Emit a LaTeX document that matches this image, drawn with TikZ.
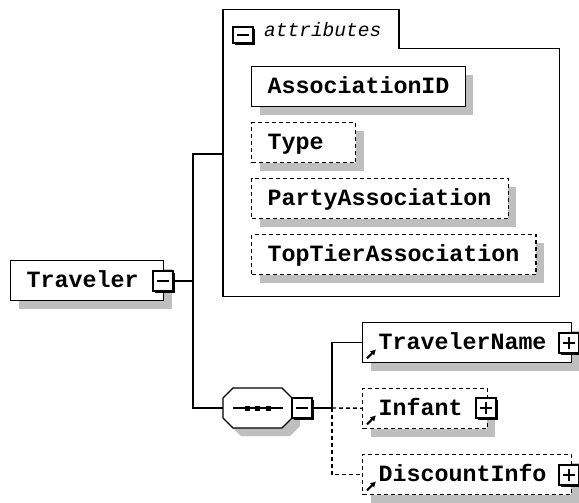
\documentclass[tikz,border=0pt]{standalone}
\usepackage{fontspec}
\usetikzlibrary{positioning,shadows,arrows.meta}
\newfontfamily\schemafont{Liberation Mono}

\tikzset{
    link/.style={line width=1.4pt},
    optional/.style={dash pattern=on 4pt off 3pt},
    boxshadow/.style={drop shadow={shadow xshift=8pt,shadow yshift=-8pt,fill=gray!50,opacity=1}},
    elem/.style={draw,fill=white,link,boxshadow,anchor=north west,minimum height=40pt,
        inner xsep=16pt,inner ysep=0pt,align=left,text height=14pt,text depth=0pt,
        font=\schemafont\bfseries\fontsize{23.3}{24}\selectfont},
    expander/.style={draw,fill=white,link,inner sep=0pt,minimum width=20pt,minimum height=20pt,
        general shadow={fill=black,shadow xshift=2pt,shadow yshift=-2pt}},
    collapse/.style={expander,path picture={
        \draw[link] ([xshift=4pt]path picture bounding box.west) -- ([xshift=-4pt]path picture bounding box.east);}},
    expand/.style={expander,path picture={
        \draw[link] ([xshift=4pt]path picture bounding box.west) -- ([xshift=-4pt]path picture bounding box.east);
        \draw[link] ([yshift=4pt]path picture bounding box.south) -- ([yshift=-4pt]path picture bounding box.north);}},
    refmark/.style={line width=2pt,-{Latex[length=5.5pt,width=6.5pt]}}
}

\begin{document}
\begin{tikzpicture}[x=1pt,y=-1pt]
        \useasboundingbox (0,0) rectangle (579,503);
        \clip (0,0) rectangle (579,503);
        % attribute group
        \draw[link] (223,296.5) |- (399,9.5) |- (559.5,48.5) -- (559.5,296.5) -- cycle;
        \coordinate (attrs) at (223,154);
        \node[collapse,minimum height=16pt] (attrminus) at (243,35) {};
        \node[anchor=base west,inner sep=0pt,font=\schemafont\itshape\fontsize{19.5}{20}\selectfont] (attrlabel) at (264,37) {attributes};
        \node[elem,text width=181.5pt] (associd) at (251,66) {AssociationID};
        \node[elem,optional,text width=72pt] (type) at (251,122) {Type};
        \node[elem,optional,text width=224.7pt] (party) at (251,178) {PartyAssociation};
        \node[elem,optional,text width=252.4pt] (toptier) at (251,234) {TopTierAssociation};
        % root element
        \node[elem,text width=121pt] (traveler) at (10,260) {Traveler};
        \node[collapse] (travminus) at (163,281) {};
        \coordinate (trunk) at (193,281);
        % sequence
        \draw[link,fill=white,boxshadow] (223,398) -- (233,388) -- (282,388) -- (292,398)
            -- (292,418) -- (282,428) -- (233,428) -- (223,418) -- cycle;
        \coordinate (seq) at (223,408);
        \draw[link] (233,408) -- (283,408);
        \foreach \dx in {247,257.5,268} {
            \fill (\dx-2.5,405.5) rectangle ++(5,5);
        }
        \node[collapse] (seqminus) at (302,408) {};
        \coordinate (fork) at (332,408);
        % children
        \node[elem,text width=176.5pt] (tname) at (362,322) {TravelerName};
        \node[expand] (tnplus) at (569,343) {};
        \node[elem,optional,text width=92.7pt] (infant) at (362,388) {Infant};
        \node[expand] (infplus) at (486,408) {};
        \node[elem,optional,text width=176.7pt] (discount) at (362,454) {DiscountInfo};
        \node[expand] (discplus) at (569,475) {};
        \foreach \n in {tname,infant,discount} {
            \draw[refmark] ([shift={(5,-5)}]\n.south west) -- ++(9,-9);
        }
        % connectors
        \draw[link] (travminus) -- (trunk);
        \draw[link] (attrs) -| (trunk) |- (seq);
        \draw[link] (seqminus) -- (fork) |- (tname);
        \draw[link,optional] (fork) -- (infant);
        \draw[link,optional] (fork) |- (discount);
    \end{tikzpicture}
\end{document}
